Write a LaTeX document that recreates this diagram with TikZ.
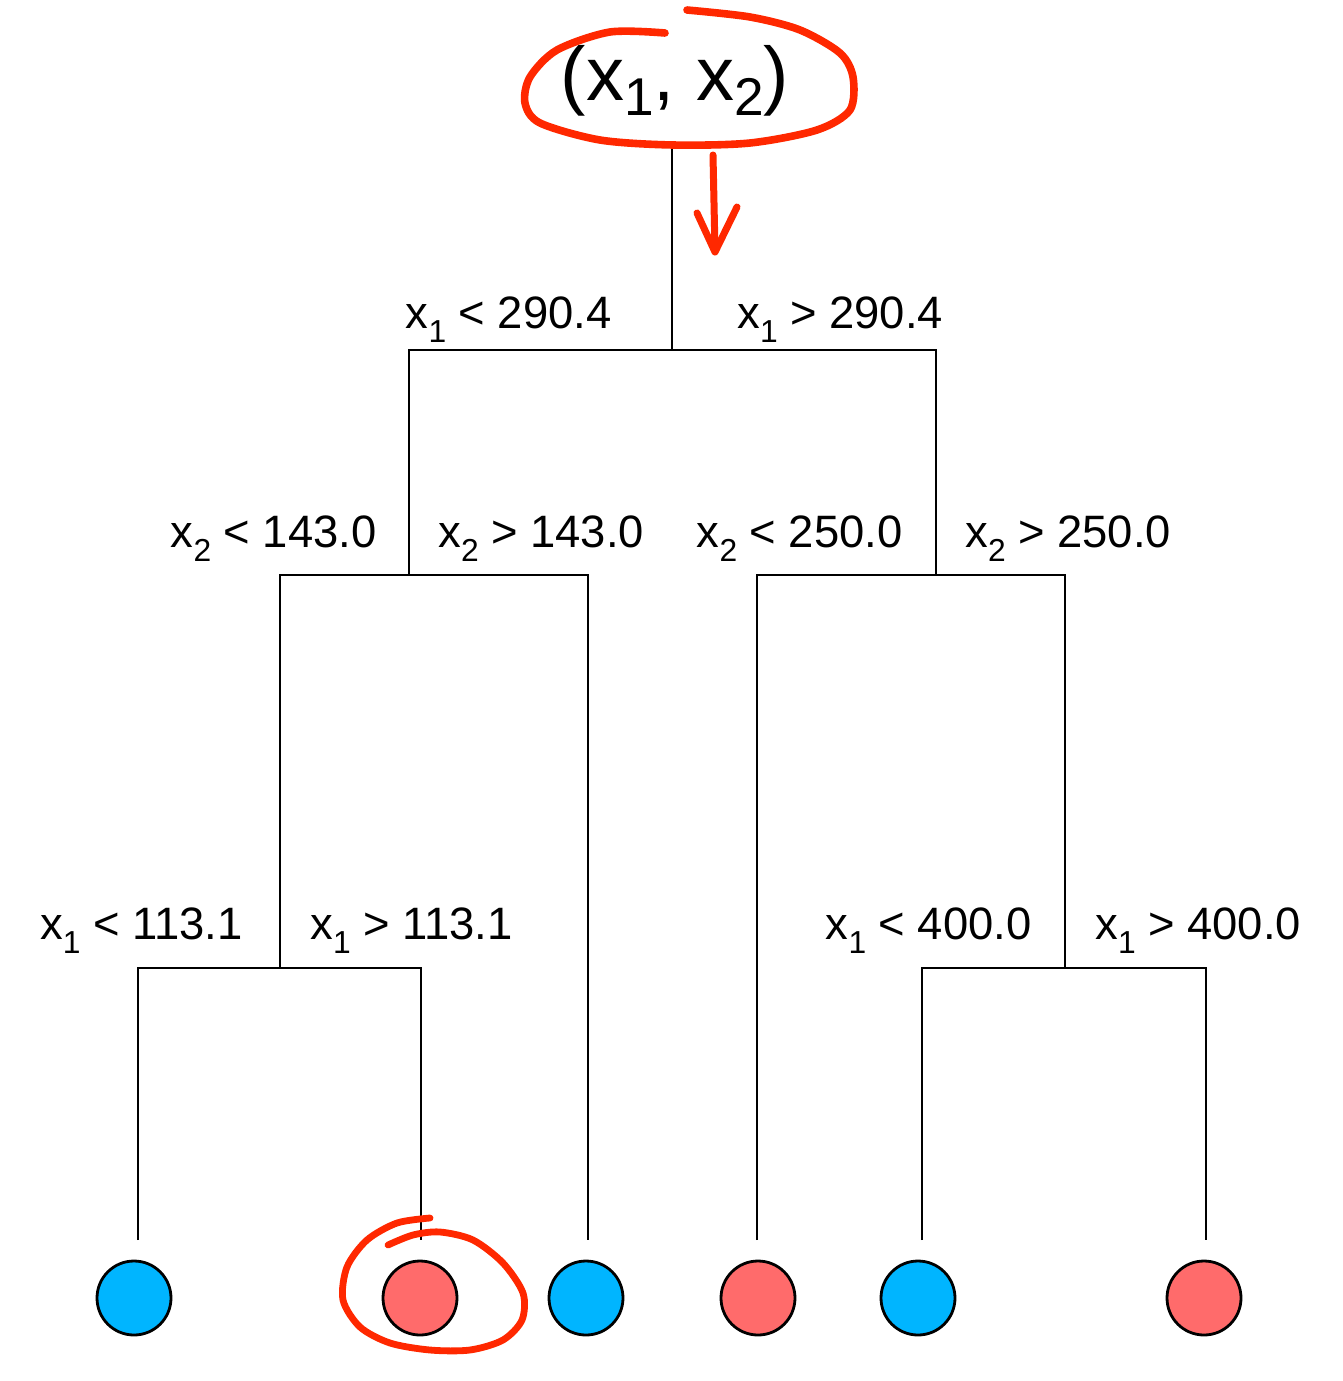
\documentclass[tikz,border=0pt]{standalone}
\usepackage{fontspec}
\setmainfont{Liberation Sans}
\usepackage{graphicx}
\definecolor{classblue}{RGB}{0,181,255}
\definecolor{classred}{RGB}{255,107,107}
\definecolor{markred}{RGB}{255,40,0}
% lowered small index, as in x_1
\newcommand{\idx}[2][0.32em]{\raisebox{-#1}{\scalebox{0.7}{#2}}}

\begin{document}
\begin{tikzpicture}[x=0.5pt, y=-0.5pt,
    cond/.style={inner sep=0pt, font=\fontsize{22.7}{27}\selectfont},
    branch/.style={draw=black, line width=1.3pt},
    leaf_blue/.style={circle, draw=black, line width=1.4pt, fill=classblue,
      minimum size=37pt, inner sep=0pt},
    leaf_red/.style={circle, draw=black, line width=1.4pt, fill=classred,
      minimum size=37pt, inner sep=0pt},
    scribble/.style={draw=markred, line width=3.8pt, line cap=round, line join=round}]

    \useasboundingbox (0,0) rectangle (1343,1381);

    % split points and leaf ends
    \coordinate (top) at (672,145);
    \coordinate (s0) at (672,350);
    \coordinate (s1) at (409,575);
    \coordinate (s2) at (936,575);
    \coordinate (s3) at (280,968);
    \coordinate (s4) at (1065,968);
    \coordinate (e1) at (138,1240);
    \coordinate (e2) at (421,1240);
    \coordinate (e3) at (588,1240);
    \coordinate (e4) at (757,1240);
    \coordinate (e5) at (922,1240);
    \coordinate (e6) at (1206,1240);

    % Place nodes
    \node [font=\fontsize{38}{44}\selectfont, inner sep=0pt, anchor=base] (input) at (675,100) {(x\idx[0.2em]{1}, x\idx[0.2em]{2})};

    \node [cond, anchor=base east] (lt0) at (612,328) {x\idx{1} < 290.4};
    \node [cond, anchor=base west] (gt0) at (737,328) {x\idx{1} > 290.4};
    \node [cond, anchor=base east] (lt1) at (377,547) {x\idx{2} < 143.0};
    \node [cond, anchor=base west] (gt1) at (438,547) {x\idx{2} > 143.0};
    \node [cond, anchor=base east] (lt2) at (903,547) {x\idx{2} < 250.0};
    \node [cond, anchor=base west] (gt2) at (965,547) {x\idx{2} > 250.0};
    \node [cond, anchor=base east] (lt3) at (243,939) {x\idx{1} < 113.1};
    \node [cond, anchor=base west] (gt3) at (310,939) {x\idx{1} > 113.1};
    \node [cond, anchor=base east] (lt4) at (1032,939) {x\idx{1} < 400.0};
    \node [cond, anchor=base west] (gt4) at (1095,939) {x\idx{1} > 400.0};

    \node [leaf_blue] (c1) at (134,1298) {};
    \node [leaf_red]  (c2) at (420,1298) {};
    \node [leaf_blue] (c3) at (586,1298) {};
    \node [leaf_red]  (c4) at (758,1298) {};
    \node [leaf_blue] (c5) at (918,1298) {};
    \node [leaf_red]  (c6) at (1204,1298) {};

    % tree branches, top down
    \draw [branch] (top) -- (s0);
    \draw [branch] (s1) |- (s0) -| (s2);
    \draw [branch] (s3) |- (s1) -| (e3);
    \draw [branch] (e4) |- (s2) -| (s4);
    \draw [branch] (e1) |- (s3) -| (e2);
    \draw [branch] (e5) |- (s4) -| (e6);

    % hand-drawn marks
    \draw [scribble] plot [smooth] coordinates {(665,33) (610,32) (557,50) (530,77)
      (525,103) (540,123) (600,140) (673,145) (750,143) (817,130) (850,110)
      (853,77) (840,53) (800,30) (750,17) (687,10)};
    \draw [scribble, line width=3.5pt] (713,155) -- (715,251);
    \draw [scribble, line width=3.5pt] (697,213) -- (715,252) -- (737,207);
    \draw [scribble, line width=3.4pt] plot [smooth] coordinates {(388,1245) (413,1235)
      (440,1232) (473,1240) (503,1263) (523,1293) (522,1320) (503,1340) (470,1350)
      (430,1350) (390,1343) (360,1327) (343,1300) (347,1267) (367,1240) (397,1223)
      (430,1218)};

\end{tikzpicture}
\end{document}
